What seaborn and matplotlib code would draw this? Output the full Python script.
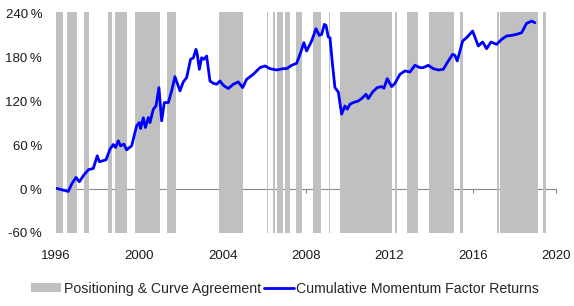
import numpy as np
import pandas as pd
import matplotlib
matplotlib.use("Agg")
import matplotlib.pyplot as plt
from matplotlib.patches import Patch
from matplotlib.lines import Line2D
import seaborn as sns

# ---- data ----
years = [1996.03, 1996.27, 1996.59, 1996.75, 1996.96, 1997.12, 1997.31, 1997.55, 1997.79, 1997.98,
         1998.08, 1998.40, 1998.59, 1998.75, 1998.86, 1998.99, 1999.10, 1999.26, 1999.39, 1999.63,
         1999.87, 2000.00, 2000.06, 2000.19, 2000.29, 2000.43, 2000.51, 2000.67, 2000.80, 2000.94,
         2001.07, 2001.20, 2001.39, 2001.55, 2001.71, 2001.95, 2002.11, 2002.27, 2002.46, 2002.59,
         2002.72, 2002.78, 2002.88, 2002.99, 2003.10, 2003.23, 2003.39, 2003.55, 2003.71, 2003.87,
         2004.03, 2004.27, 2004.51, 2004.75, 2004.96, 2005.15, 2005.47, 2005.79, 2006.03, 2006.27,
         2006.59, 2006.91, 2007.07, 2007.31, 2007.55, 2007.74, 2007.90, 2008.03, 2008.27, 2008.48,
         2008.64, 2008.75, 2008.88, 2008.96, 2009.07, 2009.15, 2009.28, 2009.39, 2009.55, 2009.71,
         2009.87, 2009.98, 2010.11, 2010.27, 2010.51, 2010.67, 2010.88, 2010.99, 2011.20, 2011.42,
         2011.63, 2011.74, 2011.90, 2012.11, 2012.27, 2012.51, 2012.75, 2012.99, 2013.23, 2013.47,
         2013.63, 2013.87, 2014.11, 2014.35, 2014.59, 2014.83, 2015.04, 2015.15, 2015.26, 2015.52,
         2015.71, 2016.00, 2016.27, 2016.48, 2016.67, 2016.88, 2017.15, 2017.39, 2017.63, 2017.87,
         2018.11, 2018.35, 2018.59, 2018.83, 2018.99]
momentum = [0.9, -0.9, -3.2, 6.8, 15.9, 10.0, 18.2, 26.4, 28.2, 45.5,
            37.3, 40.0, 54.5, 60.9, 56.8, 65.9, 59.1, 61.4, 53.6, 59.1,
            86.4, 90.9, 82.7, 97.3, 84.1, 97.7, 90.9, 109.1, 113.6, 138.6,
            93.2, 118.2, 118.2, 134.1, 153.6, 134.1, 146.4, 152.3, 177.3, 179.1,
            190.9, 184.1, 163.6, 179.5, 177.3, 181.8, 147.7, 144.5, 143.2, 147.7,
            141.8, 137.3, 143.2, 146.4, 138.6, 150.0, 156.8, 165.9, 168.2, 164.5,
            162.7, 164.5, 164.5, 169.1, 171.8, 186.4, 200.0, 188.6, 202.3, 219.1,
            210.0, 211.3, 225.0, 223.6, 207.7, 206.8, 168.2, 138.6, 132.7, 102.3,
            113.6, 109.1, 115.9, 118.2, 120.4, 123.6, 129.5, 123.6, 132.7, 138.6,
            140.0, 137.7, 150.9, 140.0, 144.5, 156.8, 161.4, 160.0, 169.1, 165.9,
            165.9, 169.1, 164.5, 162.7, 163.6, 175.0, 184.1, 182.7, 175.0, 202.3,
            206.8, 215.9, 195.5, 200.9, 191.8, 200.9, 197.7, 204.5, 209.1, 210.0,
            211.4, 213.6, 226.4, 229.5, 227.3]

shade_start = [1996.00, 1996.54, 1997.36, 1998.51, 1998.85, 1999.78, 2001.34, 2003.84, 2006.11,
               2006.40, 2006.59, 2006.99, 2007.50, 2008.34, 2009.09, 2009.65, 2012.29, 2012.83,
               2013.90, 2015.39, 2017.18, 2017.31, 2019.39]
shade_end = [1996.32, 1997.02, 1997.60, 1998.67, 1999.41, 2000.99, 2001.76, 2004.99, 2006.16,
             2006.53, 2006.91, 2007.23, 2007.82, 2008.72, 2009.15, 2012.13, 2012.38, 2013.39,
             2015.12, 2015.55, 2017.25, 2019.12, 2019.52]

x_ticks = [1996, 2000, 2004, 2008, 2012, 2016, 2020]
y_ticks = [-60, 0, 60, 120, 180, 240]

series_name = "Cumulative Momentum Factor Returns"
shade_name = "Positioning & Curve Agreement"

# ---- plot ----
sns.set_style("white")
plt.rcParams['font.family'] = ['Liberation Sans', 'DejaVu Sans']

fig, ax = plt.subplots(figsize=(5.74, 3.06), dpi=100)
fig.subplots_adjust(left=0.0976, right=0.9686, top=0.961, bottom=0.2386)

shade_color = "#C0C0C0"
for s, e in zip(shade_start, shade_end):
    ax.axvspan(s, e, color=shade_color, lw=0, zorder=1)

df = pd.DataFrame({"year": years, "ret": momentum})
sns.lineplot(data=df, x="year", y="ret", ax=ax, color="#0000FF", linewidth=2.0, zorder=3)

ax.set_xlim(1996, 2020)
ax.set_ylim(-60, 242)
ax.set_yticks(y_ticks)
ax.set_yticklabels([f"{v}\u2009%" for v in y_ticks])
ax.set_xticks(x_ticks)
ax.set_xticklabels([str(v) for v in x_ticks])
ax.set_xlabel("")
ax.set_ylabel("")
for sp in ax.spines.values():
    sp.set_visible(False)
ax.tick_params(axis="both", length=0, labelsize=9.5, colors="#1a1a1a")
ax.tick_params(axis="x", pad=12)
ax.tick_params(axis="y", pad=10)

# zero axis with ticks
sec = ax.secondary_xaxis(60 / 302)
sec.set_xticks(x_ticks)
sec.set_xticklabels([])
sec.tick_params(length=3, color="#888888", direction="out", width=0.8)
sec.spines["bottom"].set_color("#888888")
sec.spines["bottom"].set_linewidth(0.8)
sec.spines["top"].set_visible(False)
for k in ["left", "right"]:
    if k in sec.spines:
        sec.spines[k].set_visible(False)

handles = [Patch(facecolor=shade_color, edgecolor="none", label=shade_name),
           Line2D([0], [0], color="#0000FF", lw=2.0, label=series_name)]
fig.legend(handles=handles, loc="center", bbox_to_anchor=(0.497, 0.057), ncol=2,
           frameon=False, fontsize=10.2, handlelength=2.1, handletextpad=0.2,
           columnspacing=0.2, handleheight=0.6, borderpad=0.2)

fig.savefig("out.png", dpi=100)
